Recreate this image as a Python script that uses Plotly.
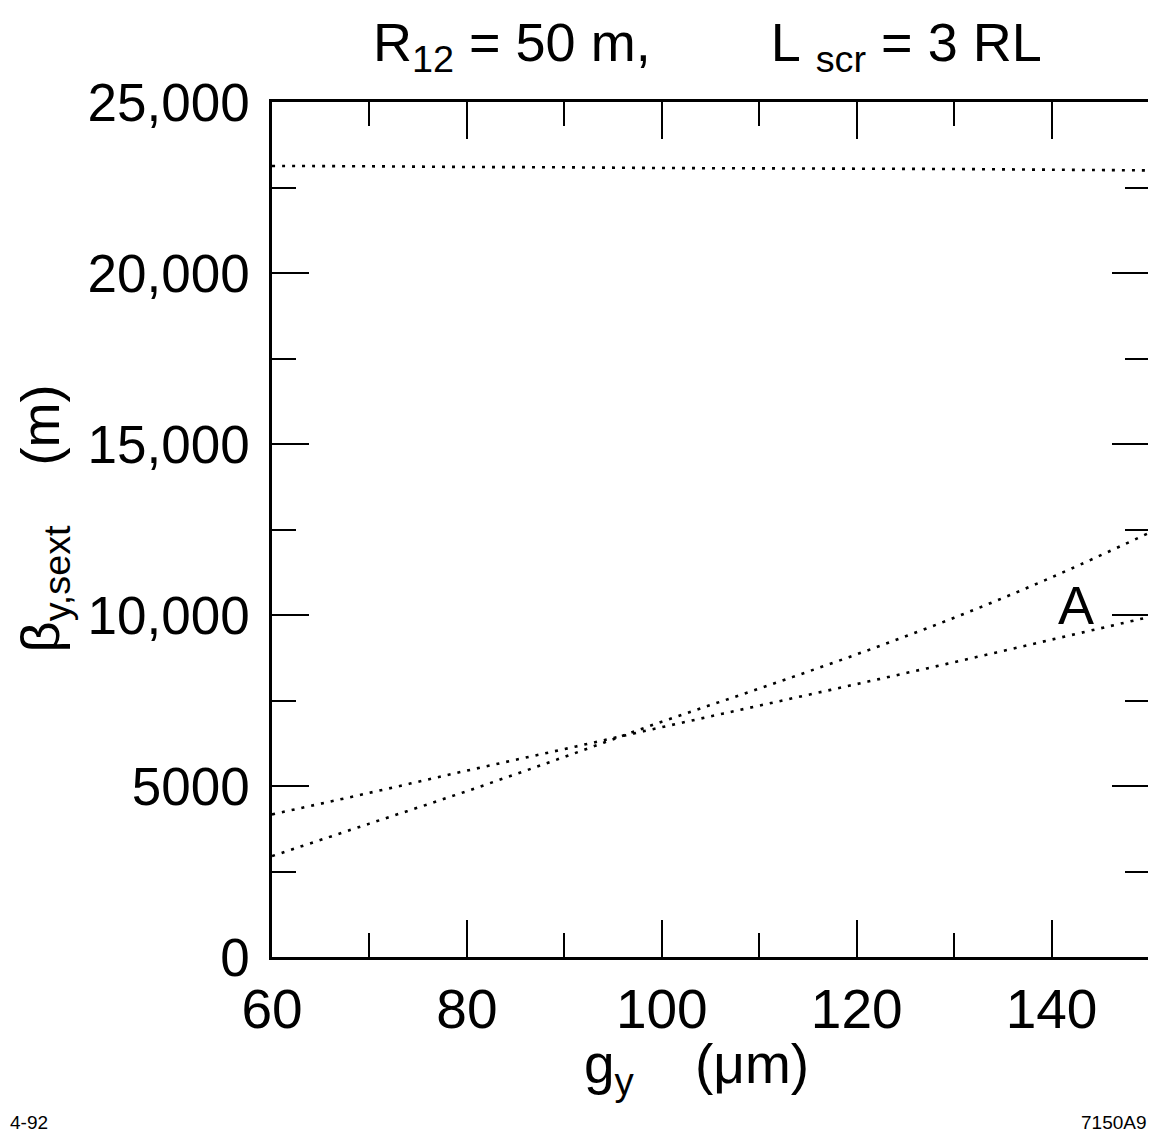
import plotly.graph_objects as go

g_vals = [60, 70, 80, 90, 100, 110, 120, 130, 140, 150]
beta_top = [23130, 23120, 23100, 23090, 23070, 23060, 23050, 23040, 23020, 23000]
beta_curve = [2950, 3900, 4850, 5850, 6880, 7850, 8850, 9920, 11100, 12400]
beta_A = [4170, 4800, 5450, 6080, 6720, 7350, 7980, 8620, 9280, 9940]

y_tickvals = [0, 5000, 10000, 15000, 20000, 25000]
y_ticktext = ["0", "5000", "10,000", "15,000", "20,000", "25,000"]
x_tickvals = [60, 80, 100, 120, 140]
x_ticktext = ["60", "80", "100", "120", "140"]

FONT = "Liberation Sans, Arial, Helvetica, sans-serif"
dot = dict(color="black", width=2.6, dash="3px,7px")

fig = go.Figure()
for ys in (beta_top, beta_curve, beta_A):
    fig.add_trace(go.Scatter(x=g_vals, y=ys, mode="lines", line=dot,
                             line_shape="spline", showlegend=False, hoverinfo="skip"))

axis_common = dict(
    showgrid=False, zeroline=False, showline=True, linecolor="black", linewidth=2.5,
    mirror="ticks", ticks="inside", ticklen=37, tickwidth=2, tickcolor="black",
)

fig.update_xaxes(range=[60, 150], tickvals=x_tickvals, ticktext=x_ticktext,
                 minor=dict(ticks="inside", ticklen=24, tickwidth=2, tickcolor="black",
                            tickvals=[70, 90, 110, 130, 150]),
                 ticklabelstandoff=2, tickfont=dict(family=FONT, size=55, color="black"),
                 **axis_common)
fig.update_yaxes(range=[0, 25000], tickvals=y_tickvals, ticktext=y_ticktext,
                 minor=dict(ticks="inside", ticklen=24, tickwidth=2, tickcolor="black",
                            tickvals=[2500, 7500, 12500, 17500, 22500]),
                 ticklabelstandoff=9, tickfont=dict(family=FONT, size=53, color="black"),
                 **axis_common)

nb = "\u00a0"
annotations = [
    dict(text=f"R<sub>12</sub> = 50 m,{nb*8}L{nb}<sub>scr</sub>{nb}= 3 RL", xref="paper", yref="paper",
         x=0.497, y=1, yshift=56, xanchor="center", yanchor="middle", showarrow=False,
         font=dict(family=FONT, size=54, color="black")),
    dict(text=f"g<sub>y</sub>{nb*4}(μm)", xref="paper", yref="paper",
         x=0.484, y=0, yshift=-111, xanchor="center", yanchor="middle", showarrow=False,
         font=dict(family=FONT, size=55, color="black")),
    dict(text=f"β<sub>y,sext</sub>{nb*4}(m)", xref="paper", yref="paper",
         x=0, xshift=-228, y=0.513, xanchor="center", yanchor="middle", textangle=-90,
         showarrow=False, font=dict(family=FONT, size=54, color="black")),
    dict(text="A", xref="x", yref="y", x=142.5, y=10300, xanchor="center", yanchor="middle",
         showarrow=False, font=dict(family=FONT, size=54, color="black")),
    dict(text="4-92", xref="paper", yref="paper", x=0, xshift=-264, y=0, yshift=-165,
         xanchor="left", yanchor="middle", showarrow=False,
         font=dict(family=FONT, size=19, color="black")),
    dict(text="7150A9", xref="paper", yref="paper", x=1, y=0, yshift=-165,
         xanchor="right", yanchor="middle", showarrow=False,
         font=dict(family=FONT, size=19, color="black")),
]

fig.update_layout(
    width=1156, height=1142,
    margin=dict(l=264, r=13, t=94, b=193),
    paper_bgcolor="white", plot_bgcolor="white",
    annotations=annotations,
    showlegend=False,
)

fig.write_html("out.html")
